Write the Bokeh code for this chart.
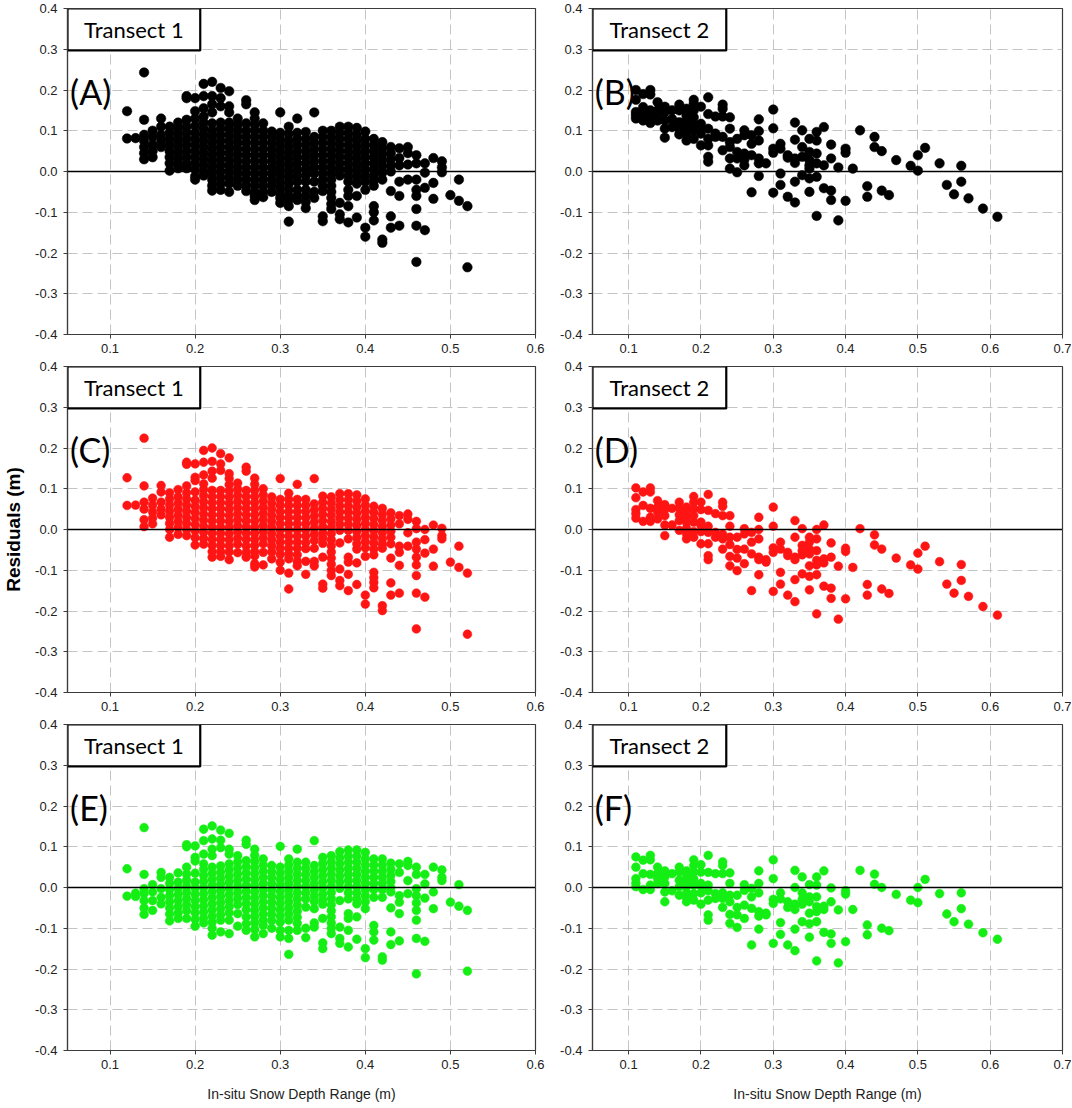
from bokeh.plotting import figure
from bokeh.layouts import gridplot
from bokeh.models import (FixedTicker, PrintfTickFormatter, Span, BoxAnnotation,
                          Label, ColumnDataSource)
from bokeh.embed import file_html
from bokeh.resources import INLINE

# ---------------- data ----------------
depth_T1 = [0.12, 0.13, 0.14, 0.15, 0.16, 0.17, 0.18, 0.19, 0.20, 0.21,
            0.22, 0.23, 0.24, 0.25, 0.26, 0.27, 0.28, 0.29, 0.30, 0.31,
            0.32, 0.33, 0.34, 0.35, 0.36, 0.37, 0.38, 0.39, 0.40, 0.41,
            0.42, 0.43, 0.44, 0.45, 0.46, 0.47, 0.48, 0.49, 0.50, 0.51, 0.52]

resid_A = [
    [0.148, 0.081],
    [0.082],
    [0.243, 0.127, 0.090, 0.075, 0.060, 0.045, 0.030],
    [0.100, 0.085, 0.065, 0.050, 0.035],
    [0.130, 0.110, 0.090, 0.075, 0.060],
    [0.110, 0.095, 0.080, 0.065, 0.050, 0.035, 0.020, 0.002],
    [0.120, 0.105, 0.090, 0.075, 0.060, 0.045, 0.030, 0.015, 0.008],
    [0.185, 0.180, 0.127, 0.110, 0.095, 0.080, 0.065, 0.050, 0.035, 0.020, 0.008],
    [0.180, 0.148, 0.130, 0.112, 0.095, 0.080, 0.065, 0.050, 0.035, 0.020, 0.005, -0.012, -0.020],
    [0.215, 0.185, 0.155, 0.135, 0.120, 0.105, 0.090, 0.075, 0.060, 0.045, 0.030, 0.015, 0.000, -0.010],
    [0.220, 0.185, 0.165, 0.145, 0.118, 0.100, 0.085, 0.070, 0.055, 0.040, 0.025, 0.010, -0.005, -0.020, -0.035, -0.047],
    [0.205, 0.180, 0.160, 0.120, 0.105, 0.090, 0.075, 0.060, 0.045, 0.030, 0.015, 0.000, -0.015, -0.030, -0.045],
    [0.197, 0.160, 0.145, 0.120, 0.105, 0.090, 0.075, 0.060, 0.045, 0.030, 0.015, 0.000, -0.015, -0.030, -0.050],
    [0.130, 0.115, 0.100, 0.085, 0.070, 0.055, 0.040, 0.025, 0.010, -0.005, -0.020, -0.035],
    [0.175, 0.165, 0.118, 0.100, 0.085, 0.070, 0.055, 0.040, 0.025, 0.010, -0.005, -0.020, -0.035, -0.048],
    [0.145, 0.130, 0.115, 0.100, 0.085, 0.070, 0.055, 0.040, 0.025, 0.010, -0.005, -0.020, -0.035, -0.050, -0.060, -0.070],
    [0.118, 0.100, 0.085, 0.070, 0.055, 0.040, 0.025, 0.010, -0.005, -0.020, -0.035, -0.050, -0.063],
    [0.098, 0.085, 0.070, 0.055, 0.040, 0.025, 0.010, -0.005, -0.020, -0.035, -0.050],
    [0.145, 0.095, 0.080, 0.065, 0.050, 0.035, 0.020, 0.005, -0.010, -0.025, -0.040, -0.055, -0.065, -0.077],
    [0.110, 0.092, 0.075, 0.060, 0.045, 0.030, 0.015, 0.000, -0.015, -0.030, -0.045, -0.060, -0.070, -0.085, -0.123],
    [0.130, 0.095, 0.080, 0.065, 0.050, 0.035, 0.020, 0.005, -0.010, -0.025, -0.045, -0.060, -0.070],
    [0.097, 0.080, 0.065, 0.050, 0.035, 0.020, 0.005, -0.010, -0.025, -0.045, -0.060, -0.075, -0.090],
    [0.145, 0.085, 0.070, 0.055, 0.040, 0.025, 0.010, -0.005, -0.025, -0.050, -0.065],
    [0.100, 0.085, 0.070, 0.055, 0.040, 0.025, 0.010, -0.005, -0.020, -0.035, -0.048, -0.110, -0.122],
    [0.100, 0.085, 0.070, 0.055, 0.040, 0.025, 0.010, -0.005, -0.020, -0.035, -0.050, -0.065, -0.080, -0.092],
    [0.110, 0.095, 0.080, 0.065, 0.050, 0.035, 0.020, 0.005, -0.010, -0.077, -0.105, -0.117],
    [0.110, 0.095, 0.080, 0.065, 0.050, 0.035, 0.020, 0.005, -0.010, -0.025, -0.045, -0.060, -0.085, -0.125],
    [0.107, 0.090, 0.075, 0.060, 0.045, 0.030, 0.015, 0.000, -0.015, -0.030, -0.060, -0.113],
    [0.098, 0.080, 0.065, 0.050, 0.035, 0.020, 0.005, -0.010, -0.025, -0.045, -0.138, -0.160],
    [0.080, 0.065, 0.050, 0.035, 0.020, 0.005, -0.010, -0.022, -0.035, -0.085, -0.100, -0.120],
    [0.072, 0.057, 0.042, 0.027, 0.012, -0.003, -0.020, -0.167, -0.175],
    [0.060, 0.045, 0.030, 0.015, 0.000, -0.048, -0.110, -0.138],
    [0.057, 0.033, 0.015, -0.025, -0.060, -0.133],
    [0.060, 0.045, 0.017, -0.020],
    [0.040, 0.020, -0.020, -0.045, -0.060, -0.092, -0.133, -0.222],
    [0.020, -0.003, -0.040, -0.144],
    [0.033, -0.028, -0.067],
    [0.025, 0.010, -0.002],
    [-0.058],
    [-0.020, -0.072],
    [-0.085, -0.235],
]

resid_C = [
    [0.127, 0.059],
    [0.060],
    [0.224, 0.107, 0.067, 0.050, 0.024, 0.007],
    [0.077, 0.060, 0.043, 0.028, 0.014],
    [0.108, 0.092, 0.067, 0.050, 0.036],
    [0.090, 0.075, 0.060, 0.045, 0.030, 0.015, 0.000, -0.019],
    [0.098, 0.080, 0.065, 0.050, 0.035, 0.020, 0.005, -0.012],
    [0.165, 0.160, 0.107, 0.090, 0.075, 0.060, 0.045, 0.030, 0.015, 0.000, -0.015],
    [0.161, 0.128, 0.120, 0.092, 0.072, 0.057, 0.042, 0.027, 0.012, -0.003, -0.020, -0.038],
    [0.194, 0.165, 0.134, 0.112, 0.098, 0.083, 0.068, 0.053, 0.038, 0.023, 0.008, -0.007, -0.022, -0.036],
    [0.200, 0.167, 0.143, 0.126, 0.096, 0.081, 0.066, 0.051, 0.036, 0.021, 0.006, -0.009, -0.024, -0.039, -0.054, -0.068],
    [0.186, 0.161, 0.145, 0.096, 0.081, 0.066, 0.051, 0.036, 0.021, 0.006, -0.009, -0.024, -0.039, -0.054, -0.066],
    [0.176, 0.137, 0.125, 0.110, 0.095, 0.080, 0.065, 0.050, 0.035, 0.020, 0.005, -0.010, -0.025, -0.040, -0.055, -0.074],
    [0.114, 0.099, 0.084, 0.069, 0.054, 0.039, 0.024, 0.009, -0.006, -0.021, -0.036, -0.057],
    [0.153, 0.143, 0.096, 0.081, 0.066, 0.051, 0.036, 0.021, 0.006, -0.009, -0.024, -0.040, -0.056, -0.068],
    [0.126, 0.111, 0.096, 0.081, 0.066, 0.051, 0.036, 0.021, 0.006, -0.009, -0.024, -0.039, -0.054, -0.065, -0.084, -0.092],
    [0.100, 0.085, 0.070, 0.055, 0.040, 0.025, 0.010, -0.005, -0.020, -0.035, -0.056, -0.087],
    [0.080, 0.065, 0.050, 0.035, 0.020, 0.005, -0.010, -0.025, -0.040, -0.055, -0.072],
    [0.125, 0.074, 0.059, 0.044, 0.029, 0.014, -0.001, -0.016, -0.031, -0.046, -0.061, -0.080, -0.100],
    [0.089, 0.074, 0.059, 0.044, 0.029, 0.014, -0.001, -0.016, -0.031, -0.046, -0.060, -0.072, -0.107, -0.146],
    [0.111, 0.074, 0.059, 0.044, 0.029, 0.014, -0.001, -0.016, -0.031, -0.046, -0.062, -0.078, -0.089],
    [0.074, 0.059, 0.044, 0.029, 0.014, -0.001, -0.016, -0.032, -0.047, -0.078, -0.110],
    [0.125, 0.063, 0.048, 0.033, 0.018, 0.003, -0.012, -0.027, -0.046, -0.078, -0.089],
    [0.082, 0.067, 0.052, 0.037, 0.022, 0.007, -0.008, -0.020, -0.034, -0.068, -0.134, -0.144],
    [0.080, 0.065, 0.050, 0.035, 0.020, 0.005, -0.010, -0.025, -0.040, -0.055, -0.070, -0.085, -0.100, -0.113],
    [0.088, 0.073, 0.058, 0.043, 0.028, 0.013, -0.002, -0.033, -0.097, -0.125, -0.138],
    [0.088, 0.073, 0.058, 0.043, 0.028, 0.013, -0.002, -0.023, -0.068, -0.080, -0.110, -0.150],
    [0.085, 0.070, 0.055, 0.040, 0.025, 0.010, -0.005, -0.020, -0.035, -0.048, -0.082, -0.135],
    [0.075, 0.060, 0.045, 0.030, 0.015, 0.000, -0.015, -0.030, -0.045, -0.066, -0.161, -0.183],
    [0.057, 0.042, 0.027, 0.012, -0.003, -0.018, -0.033, -0.048, -0.062, -0.105, -0.118, -0.130, -0.143],
    [0.052, 0.037, 0.022, 0.007, -0.008, -0.023, -0.036, -0.046, -0.187, -0.199],
    [0.041, 0.026, 0.011, -0.004, -0.019, -0.035, -0.070, -0.131, -0.161],
    [0.034, 0.014, -0.041, -0.056, -0.088, -0.156],
    [0.038, 0.025, -0.008, -0.041],
    [0.020, 0.002, -0.031, -0.048, -0.068, -0.087, -0.113, -0.156, -0.244],
    [0.000, -0.025, -0.058, -0.166],
    [0.011, -0.048, -0.090],
    [0.003, -0.015, -0.023],
    [-0.080],
    [-0.041, -0.093],
    [-0.107, -0.257],
]

resid_E = [
    [0.046, -0.021],
    [-0.014, -0.022],
    [0.147, 0.032, -0.003, -0.015, -0.032, -0.050, -0.066],
    [0.007, -0.011, -0.032, -0.056],
    [0.037, 0.025, -0.003, -0.024, -0.040],
    [0.025, 0.010, -0.005, -0.020, -0.035, -0.050, -0.065, -0.082],
    [0.036, 0.013, -0.002, -0.017, -0.032, -0.047, -0.062, -0.076],
    [0.105, 0.100, 0.050, 0.033, 0.018, 0.003, -0.012, -0.027, -0.042, -0.057, -0.076],
    [0.102, 0.074, 0.065, 0.035, 0.013, -0.002, -0.017, -0.032, -0.047, -0.062, -0.078, -0.095],
    [0.143, 0.115, 0.082, 0.058, 0.045, 0.030, 0.015, 0.000, -0.015, -0.030, -0.045, -0.060, -0.075, -0.087],
    [0.151, 0.119, 0.094, 0.078, 0.050, 0.035, 0.020, 0.005, -0.010, -0.025, -0.040, -0.055, -0.070, -0.085, -0.100, -0.117],
    [0.141, 0.116, 0.098, 0.053, 0.038, 0.023, 0.008, -0.007, -0.022, -0.037, -0.052, -0.067, -0.080, -0.109],
    [0.133, 0.094, 0.082, 0.058, 0.043, 0.028, 0.013, -0.002, -0.017, -0.032, -0.047, -0.062, -0.080, -0.113],
    [0.078, 0.063, 0.048, 0.033, 0.018, 0.003, -0.012, -0.027, -0.042, -0.064, -0.095],
    [0.116, 0.106, 0.066, 0.051, 0.036, 0.021, 0.006, -0.009, -0.024, -0.039, -0.054, -0.072, -0.089, -0.105],
    [0.094, 0.079, 0.064, 0.049, 0.034, 0.019, 0.004, -0.011, -0.026, -0.041, -0.056, -0.071, -0.086, -0.103, -0.121],
    [0.070, 0.055, 0.040, 0.025, 0.010, -0.005, -0.020, -0.035, -0.050, -0.065, -0.080, -0.093, -0.113],
    [0.054, 0.039, 0.024, 0.009, -0.006, -0.021, -0.036, -0.051, -0.066, -0.081, -0.100],
    [0.101, 0.050, 0.035, 0.020, 0.005, -0.010, -0.025, -0.040, -0.055, -0.070, -0.085, -0.105, -0.121],
    [0.070, 0.055, 0.040, 0.025, 0.010, -0.005, -0.020, -0.035, -0.050, -0.065, -0.080, -0.105, -0.125, -0.164],
    [0.094, 0.062, 0.047, 0.032, 0.017, 0.002, -0.013, -0.028, -0.043, -0.058, -0.073, -0.088, -0.105],
    [0.062, 0.047, 0.032, 0.017, 0.002, -0.013, -0.028, -0.048, -0.100, -0.123],
    [0.115, 0.054, 0.039, 0.024, 0.009, -0.006, -0.021, -0.034, -0.052, -0.087, -0.097],
    [0.074, 0.059, 0.044, 0.029, 0.014, -0.001, -0.016, -0.030, -0.041, -0.076, -0.136, -0.150],
    [0.078, 0.063, 0.048, 0.033, 0.018, 0.003, -0.012, -0.027, -0.042, -0.057, -0.072, -0.087, -0.100, -0.113],
    [0.088, 0.073, 0.058, 0.043, 0.028, 0.013, -0.002, -0.032, -0.097, -0.125, -0.137],
    [0.092, 0.077, 0.062, 0.047, 0.032, 0.017, 0.002, -0.013, -0.028, -0.064, -0.076, -0.105, -0.146],
    [0.092, 0.077, 0.062, 0.047, 0.032, 0.017, 0.002, -0.013, -0.028, -0.040, -0.072, -0.127],
    [0.086, 0.070, 0.055, 0.040, 0.025, 0.010, -0.005, -0.020, -0.035, -0.052, -0.150, -0.172],
    [0.070, 0.055, 0.040, 0.025, 0.010, -0.005, -0.024, -0.093, -0.109, -0.129],
    [0.070, 0.055, 0.040, 0.025, 0.010, -0.005, -0.024, -0.170, -0.178],
    [0.060, 0.045, 0.030, 0.015, 0.000, -0.011, -0.050, -0.109, -0.140],
    [0.058, 0.037, -0.020, -0.036, -0.064, -0.131],
    [0.064, 0.054, 0.017, -0.015],
    [0.050, 0.032, -0.003, -0.020, -0.038, -0.056, -0.080, -0.125, -0.212],
    [0.032, 0.009, -0.026, -0.132],
    [0.050, -0.011, -0.052],
    [0.043, 0.025, 0.017],
    [-0.036],
    [0.007, -0.046],
    [-0.056, -0.205],
]

depth_T2 = [0.11, 0.12, 0.13, 0.14, 0.15, 0.16, 0.17, 0.18, 0.19, 0.20,
            0.21, 0.22, 0.23, 0.24, 0.25, 0.26, 0.27, 0.28, 0.29, 0.30,
            0.31, 0.32, 0.33, 0.34, 0.35, 0.36, 0.37, 0.38, 0.39, 0.40,
            0.41, 0.42, 0.43, 0.44, 0.45, 0.46, 0.47, 0.49, 0.50, 0.51,
            0.53, 0.54, 0.55, 0.56, 0.57, 0.59, 0.61]

resid_B = [
    [0.200, 0.176, 0.146, 0.138, 0.130],
    [0.190, 0.158, 0.142, 0.125],
    [0.200, 0.189, 0.150, 0.137, 0.119],
    [0.170, 0.150, 0.137, 0.125],
    [0.159, 0.146, 0.125, 0.105, 0.083],
    [0.150, 0.129, 0.109],
    [0.164, 0.150, 0.121, 0.105, 0.091],
    [0.154, 0.137, 0.125, 0.109, 0.093, 0.076],
    [0.176, 0.166, 0.150, 0.133, 0.117, 0.101, 0.080],
    [0.159, 0.117, 0.105, 0.093, 0.064],
    [0.182, 0.141, 0.105, 0.080, 0.064, 0.036, 0.024],
    [0.135, 0.093, 0.085],
    [0.164, 0.154, 0.135, 0.085, 0.052],
    [0.133, 0.105, 0.072, 0.060, 0.032, 0.007],
    [0.080, 0.048, 0.032, -0.002],
    [0.101, 0.089, 0.044, 0.029, 0.015],
    [0.089, 0.068, 0.040, -0.051],
    [0.128, 0.099, 0.076, 0.032, 0.020, -0.011],
    [0.020],
    [0.152, 0.106, 0.056, 0.046, -0.052],
    [0.068, 0.056, -0.005, -0.033],
    [0.040, 0.034, -0.062],
    [0.120, 0.078, 0.032, 0.021, -0.025, -0.076],
    [0.101, 0.060, 0.036, -0.009],
    [0.080, 0.048, 0.028, 0.015, 0.007, -0.017, -0.050],
    [0.097, 0.076, 0.044, 0.020, -0.013, -0.109],
    [0.109, 0.015, -0.041],
    [0.066, 0.032, -0.047, -0.070],
    [0.010, -0.120],
    [0.056, 0.046, -0.072],
    [0.007],
    [0.101],
    [-0.036, -0.062],
    [0.085, 0.060],
    [0.050, -0.047],
    [-0.058],
    [0.028],
    [0.014],
    [0.040, 0.002],
    [0.058],
    [0.020],
    [-0.033],
    [-0.056],
    [0.014, -0.025],
    [-0.066],
    [-0.091],
    [-0.111],
]

resid_D = [
    [0.102, 0.078, 0.049, 0.039, 0.028],
    [0.092, 0.059, 0.020],
    [0.102, 0.092, 0.052, 0.030, 0.020],
    [0.071, 0.055, 0.043, 0.026],
    [0.061, 0.049, 0.034, 0.011, -0.015],
    [0.052, 0.011],
    [0.067, 0.052, 0.036, 0.022, -0.002],
    [0.055, 0.043, 0.030, 0.018, 0.003, -0.011, -0.023],
    [0.081, 0.067, 0.051, 0.034, 0.018, -0.005, -0.019],
    [0.067, 0.049, 0.018, 0.010, -0.005, -0.035],
    [0.086, 0.047, 0.008, -0.007, -0.035, -0.064, -0.074],
    [0.039, -0.007, -0.019],
    [0.067, 0.057, 0.034, -0.011, -0.023, -0.048],
    [0.034, 0.008, -0.019, -0.037, -0.066, -0.089],
    [-0.019, -0.049, -0.070, -0.101],
    [0.002, -0.011, -0.048, -0.084],
    [-0.007, -0.031, -0.060, -0.150],
    [0.030, 0.000, -0.023, -0.068, -0.074, -0.111],
    [-0.074, -0.080],
    [0.055, 0.008, -0.045, -0.056, -0.152],
    [-0.031, -0.048, -0.105, -0.134],
    [-0.056, -0.064, -0.161],
    [0.022, -0.019, -0.068, -0.074, -0.123, -0.177],
    [0.002, -0.039, -0.052, -0.062, -0.109],
    [-0.019, -0.031, -0.048, -0.060, -0.089, -0.115, -0.148],
    [0.000, -0.023, -0.052, -0.076, -0.087, -0.111, -0.207],
    [0.011, -0.072, -0.082, -0.139],
    [-0.033, -0.068, -0.144, -0.169],
    [-0.090, -0.220],
    [-0.046, -0.054, -0.170],
    [-0.093],
    [0.002],
    [-0.135, -0.161],
    [-0.013, -0.038],
    [-0.048, -0.146],
    [-0.157],
    [-0.070],
    [-0.087],
    [-0.058, -0.097],
    [-0.041],
    [-0.079],
    [-0.134],
    [-0.156],
    [-0.086, -0.125],
    [-0.164],
    [-0.189],
    [-0.210],
]

resid_F = [
    [0.075, 0.050, 0.022, 0.011, 0.002],
    [0.067, 0.034, -0.005],
    [0.079, 0.068, 0.032, 0.006, -0.005],
    [0.050, 0.034, 0.022, 0.010],
    [0.041, 0.026, 0.010, -0.011, -0.035],
    [0.034, -0.008],
    [0.050, 0.038, 0.018, 0.002, -0.019],
    [0.041, 0.028, 0.014, 0.002, -0.013, -0.025, -0.035],
    [0.068, 0.054, 0.038, 0.022, 0.006, -0.015, -0.031],
    [0.056, 0.038, 0.010, 0.003, -0.013, -0.041],
    [0.079, 0.037, 0.006, -0.008, -0.031, -0.067, -0.080],
    [0.034, -0.015, -0.027],
    [0.063, 0.054, 0.034, -0.013, -0.027, -0.049],
    [0.036, 0.010, -0.019, -0.035, -0.066, -0.088],
    [-0.019, -0.049, -0.067, -0.098],
    [0.007, -0.007, -0.043, -0.076],
    [-0.002, -0.023, -0.051, -0.141],
    [0.041, 0.010, -0.013, -0.059, -0.070, -0.102],
    [-0.063, -0.067],
    [0.068, 0.022, -0.029, -0.039, -0.137],
    [-0.013, -0.028, -0.086, -0.115],
    [-0.035, -0.049, -0.141],
    [0.042, 0.000, -0.041, -0.054, -0.102, -0.155],
    [0.026, -0.013, -0.029, -0.041, -0.084],
    [0.007, -0.023, -0.035, -0.063, -0.089, -0.122],
    [0.026, 0.006, -0.023, -0.047, -0.059, -0.084, -0.180],
    [0.041, -0.046, -0.054, -0.110],
    [-0.001, -0.035, -0.114, -0.137],
    [-0.055, -0.185],
    [-0.008, -0.016, -0.133],
    [-0.054],
    [0.042],
    [-0.092, -0.116],
    [0.033, 0.008],
    [0.000, -0.100],
    [-0.106],
    [-0.017],
    [-0.031],
    [0.000, -0.037],
    [0.020],
    [-0.015],
    [-0.065],
    [-0.084],
    [-0.013, -0.052],
    [-0.090],
    [-0.111],
    [-0.127],
]

panel_letters = ["(A)", "(B)", "(C)", "(D)", "(E)", "(F)"]
transect_names = ["Transect 1", "Transect 2"]
x_ticks_T1 = [0.1, 0.2, 0.3, 0.4, 0.5, 0.6]
x_ticks_T2 = [0.1, 0.2, 0.3, 0.4, 0.5, 0.6, 0.7]
y_ticks = [-0.4, -0.3, -0.2, -0.1, 0.0, 0.1, 0.2, 0.3, 0.4]
x_label = "In-situ Snow Depth Range (m)"
y_label = "Residuals (m)"

BLACK = "#000000"
RED = "#ff1414"
GREEN = "#14ee14"

TICK_FONT = "Liberation Sans"
BOX_FONT = "Lato"


def flatten(depths, cols):
    xs, ys = [], []
    for d, col in zip(depths, cols):
        for r in col:
            xs.append(d)
            ys.append(r)
    return ColumnDataSource(dict(x=xs, y=ys))


def make_panel(depths, cols, color, size, left_col, letter, row, ylab=None):
    if left_col:
        xr = (0.05, 0.6)
        ticks = x_ticks_T1
        bl, br, fw = 66, 11, 469
        box_right = 0.206
        tname = transect_names[0]
    else:
        xr = (0.05, 0.7)
        ticks = x_ticks_T2
        bl, br, fw = 46, 9, 470
        box_right = 0.235
        tname = transect_names[1]
    bt = 8
    bb = 54 if row == 2 else 24
    p = figure(width=bl + fw + br, height=bt + 326 + bb,
               x_range=xr, y_range=(-0.4, 0.4),
               output_backend="svg", toolbar_location=None,
               min_border_left=bl, min_border_right=br,
               min_border_top=bt, min_border_bottom=bb)
    p.background_fill_color = "white"
    p.border_fill_color = "white"
    p.outline_line_color = "#3c3c3c"
    p.outline_line_width = 1.2

    for ax in (p.xaxis[0], p.yaxis[0]):
        ax.axis_line_color = "#3c3c3c"
        ax.axis_line_width = 1.2
        ax.major_tick_line_color = "#3c3c3c"
        ax.major_tick_in = 0
        ax.major_tick_out = 4
        ax.minor_tick_line_color = None
        ax.major_label_text_font = TICK_FONT
        ax.major_label_text_font_size = "13px"
        ax.major_label_text_color = "#222222"
        ax.formatter = PrintfTickFormatter(format="%.1f")
    p.xaxis[0].ticker = FixedTicker(ticks=ticks)
    p.yaxis[0].ticker = FixedTicker(ticks=y_ticks)
    p.xaxis[0].major_label_standoff = 5
    p.yaxis[0].major_label_standoff = 6

    if row == 2:
        p.xaxis[0].axis_label = x_label
        p.xaxis[0].axis_label_text_font = TICK_FONT
        p.xaxis[0].axis_label_text_font_size = "14px"
        p.xaxis[0].axis_label_text_font_style = "normal"
        p.xaxis[0].axis_label_text_color = "#222222"
        p.xaxis[0].axis_label_standoff = 14
    if ylab:
        p.yaxis[0].axis_label = ylab
        p.yaxis[0].axis_label_text_font = TICK_FONT
        p.yaxis[0].axis_label_text_font_size = "19px"
        p.yaxis[0].axis_label_text_font_style = "bold"
        p.yaxis[0].axis_label_text_color = "black"
        p.yaxis[0].axis_label_standoff = 8

    for g in (p.xgrid[0], p.ygrid[0]):
        g.grid_line_color = "#c4c4c4"
        g.grid_line_dash = "10 5"
        g.grid_line_width = 1

    p.add_layout(Span(location=0, dimension="width", line_color="black",
                      line_width=1.6))

    p.scatter("x", "y", source=flatten(depths, cols), size=size,
              fill_color=color, line_color=color, line_width=0.5)

    p.add_layout(BoxAnnotation(left=0.05, right=box_right, bottom=0.297, top=0.4,
                               fill_color="white", fill_alpha=1.0,
                               line_color="black", line_alpha=1.0,
                               line_width=2.2))
    p.add_layout(Label(x=(0.05 + box_right) / 2, y=0.349, text=tname,
                       text_align="center", text_baseline="middle",
                       text_font=BOX_FONT, text_font_size="22px",
                       text_color="black"))
    p.add_layout(Label(x=0.053, y=0.197, text=letter,
                       text_align="left", text_baseline="alphabetic",
                       text_font=BOX_FONT, text_font_size="34px",
                       text_color="black"))
    return p


pA = make_panel(depth_T1, resid_A, BLACK, 9.6, True, panel_letters[0], 0)
pB = make_panel(depth_T2, resid_B, BLACK, 9.6, False, panel_letters[1], 0)
pC = make_panel(depth_T1, resid_C, RED, 8.8, True, panel_letters[2], 1, ylab=y_label)
pD = make_panel(depth_T2, resid_D, RED, 8.8, False, panel_letters[3], 1)
pE = make_panel(depth_T1, resid_E, GREEN, 8.8, True, panel_letters[4], 2)
pF = make_panel(depth_T2, resid_F, GREEN, 8.8, False, panel_letters[5], 2)

grid = gridplot([[pA, pB], [pC, pD], [pE, pF]], toolbar_location=None)

open("out.html", "w").write(file_html(grid, INLINE))
